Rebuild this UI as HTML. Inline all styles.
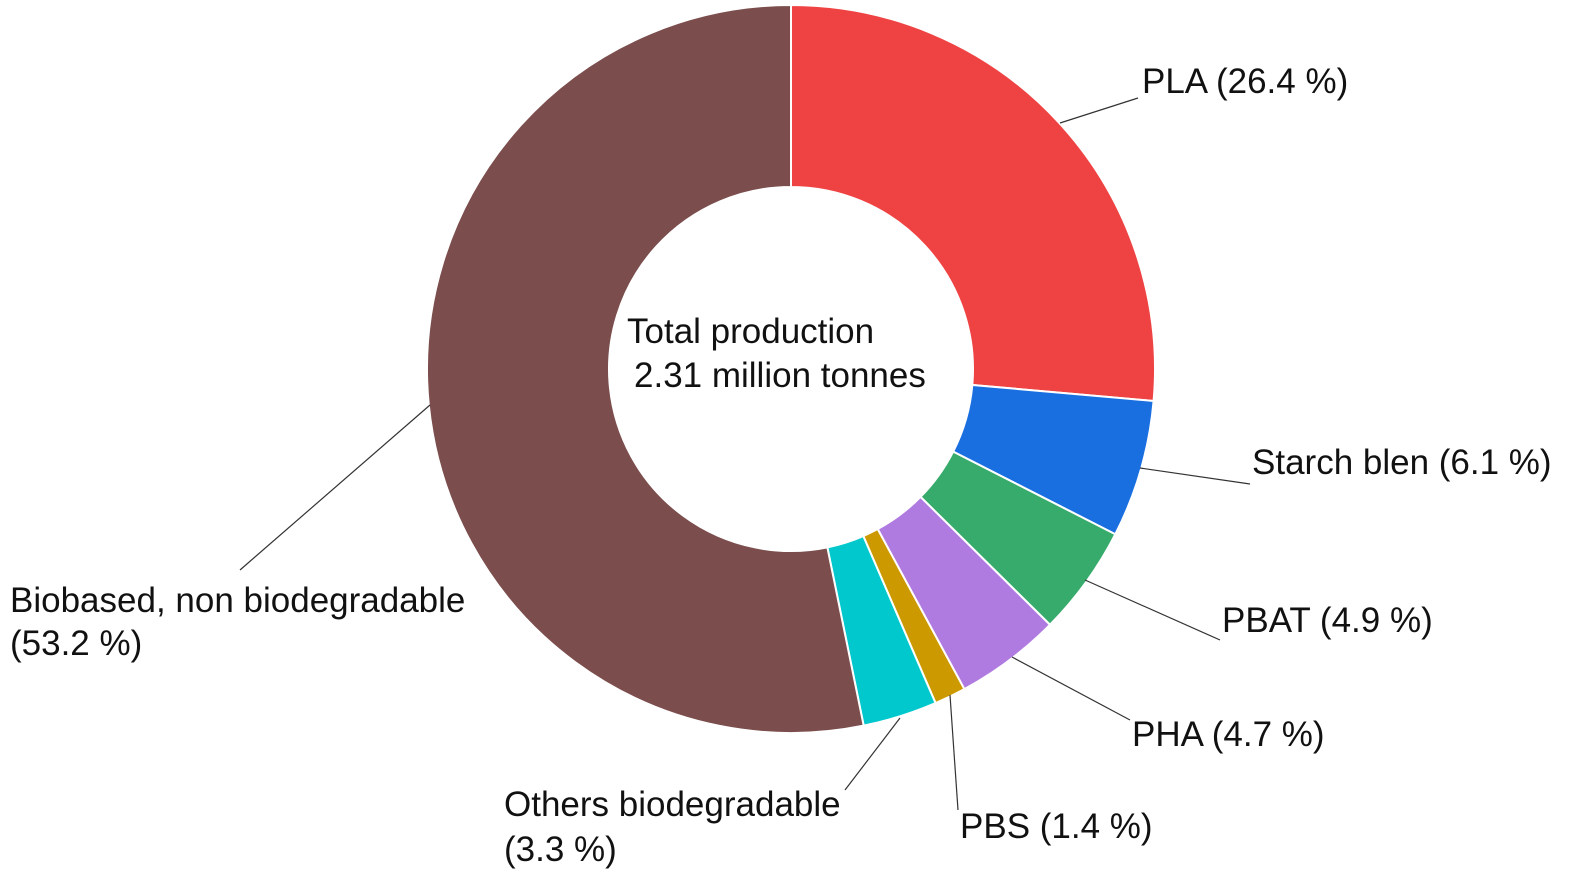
<!DOCTYPE html>
<html><head><meta charset="utf-8"><style>
html,body{margin:0;padding:0;background:#fff;}
svg text{font-family:"Liberation Sans",sans-serif;font-size:35px;fill:#111;}
</style></head><body>
<svg id="chart" width="1575" height="882" viewBox="0 0 1575 882">
<g id="slices"></g><g id="leaders"></g><g id="labels"></g>
<text x="627" y="343">Total production</text>
<text x="634" y="387">2.31 million tonnes</text>
</svg>
<script>
const categories = ["PLA","Starch blen","PBAT","PHA","PBS","Others biodegradable","Biobased, non biodegradable"];
const values = [26.4, 6.1, 4.9, 4.7, 1.4, 3.3, 53.2];
const colors = ["#ef4343","#1a6fe0","#37ab6b","#b07be0","#cc9a00","#00c8cc","#7b4d4d"];
const cx=791, cy=369, R=364, r=182;
const ns="http://www.w3.org/2000/svg";
const total=values.reduce((a,b)=>a+b,0);
function pt(a,rad){return [cx+rad*Math.sin(a), cy-rad*Math.cos(a)];}
let acc=0;
const gS=document.getElementById('slices');
values.forEach((v,i)=>{
  const a0=acc/total*2*Math.PI; acc+=v; const a1=acc/total*2*Math.PI;
  const large=(a1-a0)>Math.PI?1:0;
  const [x0,y0]=pt(a0,R),[x1,y1]=pt(a1,R),[x2,y2]=pt(a1,r),[x3,y3]=pt(a0,r);
  const p=document.createElementNS(ns,'path');
  p.setAttribute('d',`M${x0},${y0}A${R},${R} 0 ${large} 1 ${x1},${y1}L${x2},${y2}A${r},${r} 0 ${large} 0 ${x3},${y3}Z`);
  p.setAttribute('fill',colors[i]);p.setAttribute('stroke','#fff');p.setAttribute('stroke-width','2');
  
  
  gS.appendChild(p);
});
const layout=[
 {l:[1060,123,1138,98],t:[[1142,93]]},
 {l:[1140,468,1250,484],t:[[1252,474]]},
 {l:[1085,580,1220,640],t:[[1222,632]]},
 {l:[1012,657,1130,720],t:[[1132,746]]},
 {l:[950,695,958,810],t:[[960,838]]},
 {l:[900,718,845,790],t:[[504,816],[504,861]]},
 {l:[430,405,240,570],t:[[10,612],[10,655]]}
];
const gL=document.getElementById('leaders'),gT=document.getElementById('labels');
values.forEach((v,i)=>{
  const L=layout[i];
  const ln=document.createElementNS(ns,'line');
  ln.setAttribute('x1',L.l[0]);ln.setAttribute('y1',L.l[1]);ln.setAttribute('x2',L.l[2]);ln.setAttribute('y2',L.l[3]);
  ln.setAttribute('stroke','#333');ln.setAttribute('stroke-width','1.2');
  
  
  gL.appendChild(ln);
  const pct='('+v.toFixed(1)+' %)';
  const lines=L.t.length>1?[categories[i],pct]:[categories[i]+' '+pct];
  lines.forEach((s,j)=>{
    const t=document.createElementNS(ns,'text');
    t.setAttribute('x',L.t[j][0]);t.setAttribute('y',L.t[j][1]);t.textContent=s;
    
    
    gT.appendChild(t);
  });
});
</script>
</body></html>
